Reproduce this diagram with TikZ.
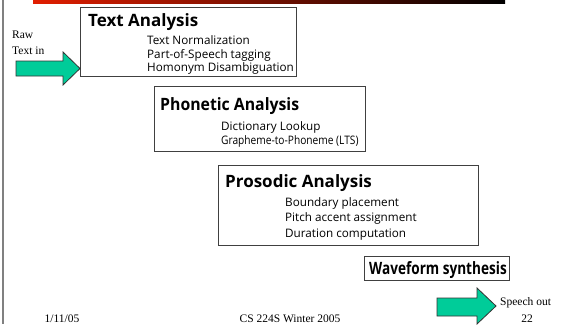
\documentclass[tikz,border=0pt]{standalone}
\usepackage{fontspec}
\usepackage{graphicx}
\setmainfont{Liberation Serif}
\newfontfamily\boxfont{Open Sans}
\definecolor{arrowfill}{RGB}{0,204,153}
\definecolor{barred}{RGB}{225,30,0}
\begin{document}
\begin{tikzpicture}[x=1pt,y=-1pt,
  stagebox/.style={draw=black!75,line width=0.9pt,fill=white,anchor=north west,inner sep=0pt},
  titletext/.style={anchor=base west,inner sep=0pt,font=\boxfont\bfseries\fontsize{17}{20}\selectfont},
  itemtext/.style={anchor=base west,inner sep=0pt,font=\boxfont\fontsize{11.7}{14}\selectfont},
  sidetext/.style={anchor=base west,inner sep=0pt,font=\fontsize{11.5}{13}\selectfont},
  foottext/.style={anchor=base,inner sep=0pt,font=\fontsize{11.5}{13}\selectfont},
  bigarrow/.style={draw=black!80,line width=0.8pt,fill=arrowfill}]
\useasboundingbox (0,0) rectangle (578,324);
\fill[white] (0,0) rectangle (578,324);
% top bar and left rule
\shade[left color=barred,right color=black] (33,0) rectangle (505,3.5);
\draw[gray,line width=1.3pt] (3,0) -- (3,324);

% Text Analysis
\node[stagebox,minimum width=216pt,minimum height=69pt] (ta) at (80,7) {};
\node[titletext] (tat) at (88,26) {Text Analysis};
\node[itemtext] (ta1) at (147,44) {Text Normalization};
\node[itemtext] (ta2) at (147,58) {Part-of-Speech tagging};
\node[itemtext] (ta3) at (147,71) {Homonym Disambiguation};

% Phonetic Analysis
\node[stagebox,minimum width=211pt,minimum height=65pt] (pa) at (154,86) {};
\node[titletext] (pat) at (160,110) {\scalebox{0.93}[1]{Phonetic Analysis}};
\node[itemtext] (pa1) at (221,130) {Dictionary Lookup};
\node[itemtext] (pa2) at (221,144) {\scalebox{0.87}[1]{Grapheme-to-Phoneme (LTS)}};

% Prosodic Analysis
\node[stagebox,minimum width=260pt,minimum height=80pt] (pr) at (218,165) {};
\node[titletext] (prt) at (225,187) {Prosodic Analysis};
\node[itemtext] (pr1) at (285,206) {Boundary placement};
\node[itemtext] (pr2) at (285,221) {Pitch accent assignment};
\node[itemtext] (pr3) at (285,237) {Duration computation};

% Waveform synthesis
\node[stagebox,minimum width=145pt,minimum height=24pt] (ws) at (364,256) {};
\node[titletext] (wst) at (369,274) {\scalebox{0.8}[1]{Waveform synthesis}};

% arrows
\draw[bigarrow] (16,61) -- (63,61) -- (63,52) -- (80,68.5) -- (63,85) -- (63,76) -- (16,76) -- cycle;
\draw[bigarrow] (437,298) -- (477,298) -- (477,288) -- (496,306) -- (477,324) -- (477,316) -- (437,316) -- cycle;

\node[sidetext] (raw) at (12,38) {Raw};
\node[sidetext] (txtin) at (12,54) {Text in};
\node[sidetext] (spout) at (500,305) {Speech out};

% footer
\node[foottext] (date) at (62,322) {1/11/05};
\node[foottext] (course) at (290,322) {CS 224S Winter 2005};
\node[foottext] (page) at (527,322) {22};
\end{tikzpicture}
\end{document}
